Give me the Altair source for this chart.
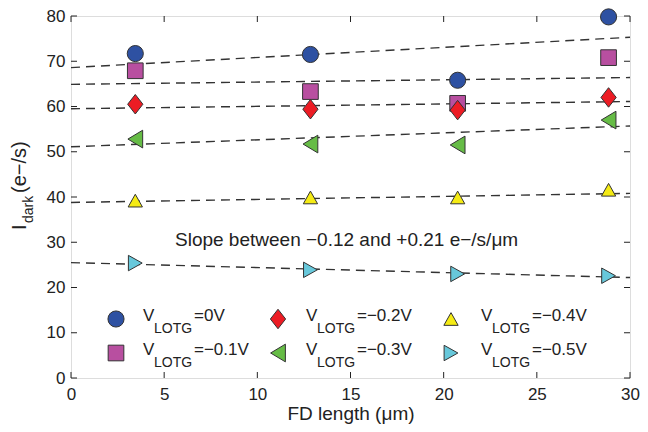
import altair as alt
import pandas as pd

# ---------------- data ----------------
fd_length = [3.45, 12.85, 20.75, 28.85]
series_names = ["0V", "−0.1V", "−0.2V", "−0.3V", "−0.4V", "−0.5V"]
idark_0v = [71.7, 71.5, 65.8, 79.8]
idark_m01 = [67.9, 63.3, 60.7, 70.8]
idark_m02 = [60.5, 59.4, 59.2, 62.0]
idark_m03 = [52.8, 51.7, 51.5, 57.0]
idark_m04 = [39.2, 39.9, 39.9, 41.6]
idark_m05 = [25.4, 23.9, 23.0, 22.6]
fit_x = [0, 30]
fit_start = [68.6, 64.9, 59.5, 51.1, 38.8, 25.5]
fit_end = [75.3, 66.4, 61.1, 55.7, 40.8, 22.2]
x_ticks = [0, 5, 10, 15, 20, 25, 30]
y_ticks = [0, 10, 20, 30, 40, 50, 60, 70, 80]
annotation = "Slope between −0.12 and +0.21 e−/s/μm"

# ---------------- styles ----------------
fills = ["#2E51A2", "#B84FA0", "#EC1C24", "#66BC46", "#F5EB14", "#67C8DB"]
shapes = [
    "circle",
    "square",
    "M0,-1.28L1,0L0,1.28L-1,0Z",
    "M-1,0L1,-1.2L1,1.2Z",
    "M0,-0.89L1,0.89L-1,0.89Z",
    "M1,0L-1,-1.12L-1,1.12Z",
]
sizes = [260, 190, 280, 280, 380, 340]
FONT = "Liberation Sans"
TXT = "#222222"
W, H = 559, 362

all_y = [idark_0v, idark_m01, idark_m02, idark_m03, idark_m04, idark_m05]
pts = pd.DataFrame(
    [{"series": s, "x": x, "y": y} for s, ys in zip(series_names, all_y) for x, y in zip(fd_length, ys)]
)
fits = pd.DataFrame(
    [{"series": s, "x": fx, "y": fy}
     for s, a, b in zip(series_names, fit_start, fit_end)
     for fx, fy in zip(fit_x, [a, b])]
)

xscale = alt.Scale(domain=[0, 30], nice=False, zero=False)
yscale = alt.Scale(domain=[0, 80], nice=False, zero=False)
shape_scale = alt.Scale(domain=series_names, range=shapes)
fill_scale = alt.Scale(domain=series_names, range=fills)
size_scale = alt.Scale(domain=series_names, range=sizes)

xaxis = alt.Axis(values=x_ticks, ticks=False, domain=False, grid=False, labelFontSize=17,
                 labelPadding=8, labelColor=TXT, labelFont=FONT, title="FD length (μm)",
                 titleFontSize=19, titleFontWeight="normal", titleFont=FONT, titleColor=TXT,
                 titleBaseline="alphabetic", titleY=41, labelFlush=False)
yaxis = alt.Axis(values=y_ticks, ticks=False, domain=False, grid=False, labelFontSize=17,
                 labelPadding=6, labelColor=TXT, labelFont=FONT, title="")


def X(field):
    return alt.X(field, scale=xscale, axis=xaxis)


def Y(field):
    return alt.Y(field, scale=yscale, axis=yaxis)


lines = alt.Chart(fits).mark_line(strokeDash=[9, 6], color="#333333", strokeWidth=1.4).encode(
    x=X("x:Q"), y=Y("y:Q"), detail="series:N",
)

points = alt.Chart(pts).mark_point(filled=True, stroke="#333333", strokeWidth=1, opacity=1, fillOpacity=1).encode(
    x=X("x:Q"), y=Y("y:Q"),
    shape=alt.Shape("series:N", scale=shape_scale, legend=None),
    fill=alt.Fill("series:N", scale=fill_scale, legend=None),
    size=alt.Size("series:N", scale=size_scale, legend=None),
)

xt = pd.DataFrame({"x": x_ticks})
yt = pd.DataFrame({"y": y_ticks})
tick_style = dict(color="#222222", strokeWidth=1)
tb = alt.Chart(xt).mark_rule(**tick_style).encode(x=X("x:Q"), y=alt.value(H), y2=alt.value(H - 6))
tt = alt.Chart(xt).mark_rule(**tick_style).encode(x=X("x:Q"), y=alt.value(0), y2=alt.value(6))
tl = alt.Chart(yt).mark_rule(**tick_style).encode(y=Y("y:Q"), x=alt.value(0), x2=alt.value(6))
tr = alt.Chart(yt).mark_rule(**tick_style).encode(y=Y("y:Q"), x=alt.value(W), x2=alt.value(W - 6))

# ---------------- manual legend (with subscripts) ----------------
col_marker = [45, 45, 207, 207, 380, 380]
row_marker = [303, 337, 303, 337, 303, 337]
col_text = [72, 72, 235, 235, 410, 410]
row_text = [305, 339, 305, 339, 305, 339]
leg = pd.DataFrame({
    "series": series_names,
    "mx": col_marker, "my": row_marker,
    "tx": col_text, "ty": row_text,
    "suffix": ["=" + s for s in series_names],
    "v": ["V"] * 6, "sub": ["LOTG"] * 6,
})
leg_pts = alt.Chart(leg).mark_point(filled=True, stroke="#333333", strokeWidth=1, opacity=1, fillOpacity=1).encode(
    x=alt.X("mx:Q", scale=None, axis=None),
    y=alt.Y("my:Q", scale=None, axis=None),
    shape=alt.Shape("series:N", scale=shape_scale, legend=None),
    fill=alt.Fill("series:N", scale=fill_scale, legend=None),
    size=alt.Size("series:N", scale=size_scale, legend=None),
)
tbase = dict(align="left", baseline="alphabetic", font=FONT, color=TXT)
leg_v = alt.Chart(leg).mark_text(fontSize=17, **tbase).encode(
    x=alt.X("tx:Q", scale=None, axis=None), y=alt.Y("ty:Q", scale=None, axis=None), text="v:N")
leg_sub = alt.Chart(leg).mark_text(fontSize=14, dx=11, dy=12, **tbase).encode(
    x=alt.X("tx:Q", scale=None, axis=None), y=alt.Y("ty:Q", scale=None, axis=None), text="sub:N")
leg_suf = alt.Chart(leg).mark_text(fontSize=17, dx=51, **tbase).encode(
    x=alt.X("tx:Q", scale=None, axis=None), y=alt.Y("ty:Q", scale=None, axis=None), text="suffix:N")

# ---------------- annotation ----------------
ann = alt.Chart(pd.DataFrame({"label": [annotation]})).mark_text(fontSize=19, **tbase).encode(
    x=alt.value(104), y=alt.value(230), text="label:N")

# ---------------- y-axis title with subscript ----------------
ytitle_df = pd.DataFrame({"big": ["I"], "small": ["dark"], "rest": ["(e−/s)"]})
yt_big = alt.Chart(ytitle_df).mark_text(fontSize=20, angle=270, **tbase).encode(
    x=alt.value(-45), y=alt.value(214), text="big:N")
yt_small = alt.Chart(ytitle_df).mark_text(fontSize=14, angle=270, **tbase).encode(
    x=alt.value(-38), y=alt.value(207), text="small:N")
yt_rest = alt.Chart(ytitle_df).mark_text(fontSize=20, angle=270, **tbase).encode(
    x=alt.value(-45), y=alt.value(177), text="rest:N")

chart = alt.layer(
    lines, points, tb, tt, tl, tr, leg_pts, leg_v, leg_sub, leg_suf, ann, yt_big, yt_small, yt_rest
).properties(
    width=W, height=H,
    autosize=alt.AutoSizeParams(type="none"),
    padding={"left": 63, "top": 8, "right": 10, "bottom": 48},
).configure_view(stroke="#222222", strokeWidth=1).configure(background="white")

chart.save("out.html", embed_options={"renderer": "svg", "actions": False})
